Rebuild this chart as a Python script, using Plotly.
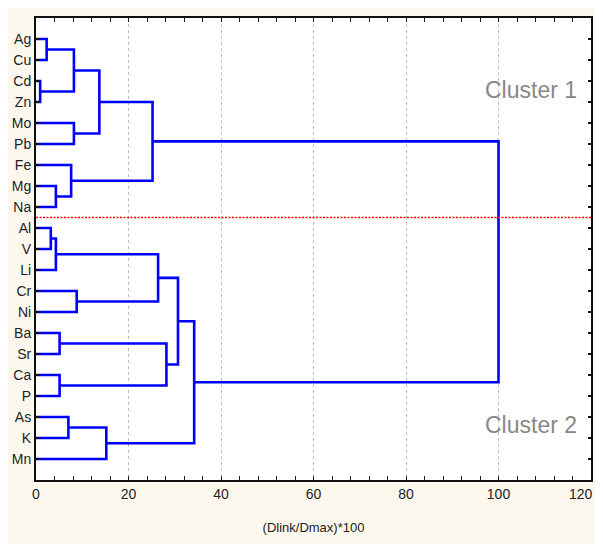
import plotly.graph_objects as go

# ---- data ----
leaves = ["Ag", "Cu", "Cd", "Zn", "Mo", "Pb", "Fe", "Mg", "Na",
          "Al", "V", "Li", "Cr", "Ni", "Ba", "Sr", "Ca", "P", "As", "K", "Mn"]
# merges: (left member, right member, linkage distance); cN = result of merge N
merge_a = ["Ag", "Cd", "c0", "Mo", "c2", "Mg", "Fe", "c4", "Al", "c8",
           "Cr", "c9", "Ba", "Ca", "c12", "c11", "As", "c16", "c15", "c7"]
merge_b = ["Cu", "Zn", "c1", "Pb", "c3", "Na", "c5", "c6", "V", "Li",
           "Ni", "c10", "Sr", "P", "c13", "c14", "K", "Mn", "c17", "c18"]
merge_h = [2.3, 0.9, 8.2, 8.2, 13.7, 4.3, 7.6, 25.2, 3.2, 4.3,
           8.8, 26.4, 5.1, 5.1, 28.2, 30.7, 7.0, 15.2, 34.2, 100.0]
cut_after = "Na"          # red cut line between cluster 1 and cluster 2
cluster_labels = ["Cluster 1", "Cluster 2"]
x_ticks = [0, 20, 40, 60, 80, 100, 120]
x_title = "(Dlink/Dmax)*100"

# ---- build dendrogram coordinates from the data ----
pos = {name: (0.0, float(i)) for i, name in enumerate(leaves)}
xs, ys = [], []
for i, (a, b, h) in enumerate(zip(merge_a, merge_b, merge_h)):
    ha, ya = pos[a]
    hb, yb = pos[b]
    xs += [ha, h, h, hb, None]
    ys += [ya, ya, yb, yb, None]
    pos[f"c{i}"] = (h, (ya + yb) / 2)

FONT = "Liberation Sans, Arial, sans-serif"
fig = go.Figure()
fig.add_trace(go.Scatter(x=xs, y=ys, mode="lines",
                         line=dict(color="#0000FF", width=2.6),
                         hoverinfo="skip", showlegend=False))

cut_y = leaves.index(cut_after) + 0.5
fig.add_shape(type="line", x0=0, x1=120, y0=cut_y, y1=cut_y, xref="x", yref="y",
              line=dict(color="#FF0000", width=1.3, dash="2px,1.5px"), layer="above")

n = len(leaves)
fig.add_annotation(x=117.3, y=2.45, text=cluster_labels[0], showarrow=False,
                   xanchor="right", yanchor="middle",
                   font=dict(family=FONT, size=23, color="#888888"))
fig.add_annotation(x=117.3, y=18.4, text=cluster_labels[1], showarrow=False,
                   xanchor="right", yanchor="middle",
                   font=dict(family=FONT, size=23, color="#888888"))

# the last x tick label sits at the page edge; drawn right-aligned so it stays visible
tick_text = [str(v) for v in x_ticks]
last_label = tick_text[-1]
tick_text[-1] = ""
fig.add_annotation(x=x_ticks[-1], y=0, xref="x", yref="paper", text=last_label,
                   showarrow=False, xanchor="right", yanchor="middle",
                   xshift=4, yshift=-14,
                   font=dict(family=FONT, size=14, color="#222222"))

# the page body adds an 8px margin all round, so the figure is made smaller
fig.update_layout(
    width=595, height=536,
    margin=dict(l=28, r=12, t=10, b=64),
    paper_bgcolor="#FDF8EE", plot_bgcolor="#FFFFFF",
    font=dict(family=FONT, size=14, color="#222222"),
    showlegend=False,
)
fig.update_xaxes(
    range=[0, 120], tickvals=x_ticks, ticktext=tick_text,
    ticks="inside", ticklen=4, tickcolor="#222222", tickwidth=1,
    minor=dict(dtick=4, ticks="inside", ticklen=4, tickcolor="#222222", showgrid=False),
    showgrid=True, gridcolor="#BBBBBB", griddash="dot", gridwidth=1,
    showline=True, linecolor="#111111", linewidth=2, mirror="ticks",
    zeroline=False, automargin=False,
    title=dict(text=x_title, font=dict(family=FONT, size=13, color="#222222"), standoff=22),
    tickfont=dict(family=FONT, size=14, color="#222222"),
)
fig.update_yaxes(
    range=[n, -1], tickvals=list(range(n)), ticktext=leaves,
    ticks="inside", ticklen=3, tickcolor="#111111", tickwidth=2,
    showgrid=False, zeroline=False, automargin=False,
    showline=True, linecolor="#111111", linewidth=2, mirror="ticks",
    tickfont=dict(family=FONT, size=14, color="#222222"),
)

fig.write_html("out.html")
